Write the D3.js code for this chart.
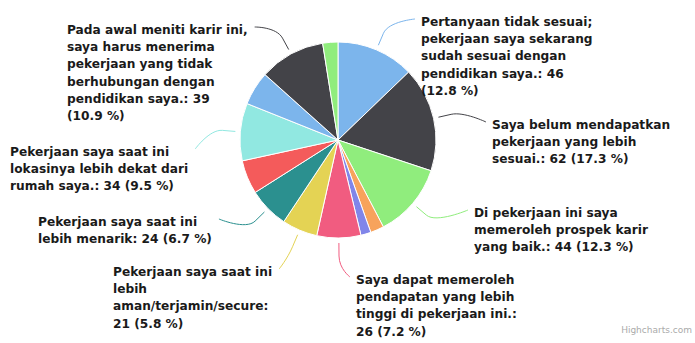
<!DOCTYPE html>
<html><head><meta charset="utf-8">
<script src="https://cdn.jsdelivr.net/npm/d3@7"></script>
<style>
html,body{margin:0;padding:0;background:#fff;}
svg{display:block;}
</style>
</head><body>
<svg id="chart" width="695" height="343"></svg>
<script>
// ---- data ----
const names = [
  "Pertanyaan tidak sesuai; pekerjaan saya sekarang sudah sesuai dengan pendidikan saya.",
  "Saya belum mendapatkan pekerjaan yang lebih sesuai.",
  "Di pekerjaan ini saya memeroleh prospek karir yang baik.",
  "Lainnya (a)",
  "Lainnya (b)",
  "Saya dapat memeroleh pendapatan yang lebih tinggi di pekerjaan ini.",
  "Pekerjaan saya saat ini lebih aman/terjamin/secure",
  "Pekerjaan saya saat ini lebih menarik",
  "Lainnya (c)",
  "Pekerjaan saya saat ini lokasinya lebih dekat dari rumah saya.",
  "Lainnya (d)",
  "Pada awal meniti karir ini, saya harus menerima pekerjaan yang tidak berhubungan dengan pendidikan saya.",
  "Lainnya (e)"
];
const values = [46, 62, 44, 8, 6, 26, 21, 24, 20, 34, 20, 39, 9];
const colors = ["#7cb5ec","#434348","#90ed7d","#f7a35c","#8085e9","#f15c80","#e4d354","#2b908f","#f45b5b","#91e8e1","#7cb5ec","#434348","#90ed7d"];
// words per label line (null = label hidden)
const wrapWords = [[3,3,3,3,2],[3,3,4],[4,3,5],null,null,[3,3,4,3],[4,1,1,3],[4,5],null,[4,4,5],null,[5,3,3,2,3,2],null];
// label layout: side, text left x, first baseline y
const labelLayout = [
  ["right",421,26],["right",492,129],["right",474,217],null,null,["right",356,284],
  ["left",113,276],["left",38,226],null,["left",10,156],null,["left",67,34],null
];

// ---- chart ----
const svg = d3.select("#chart");
const cx = 338, cy = 140, r = 98;
const total = d3.sum(values);
const data = values.map((v,i)=>({name:names[i], value:v, color:colors[i], i}));
const pie = d3.pie().value(d=>d.value).sort(null);
const arcs = pie(data);
const arc = d3.arc().innerRadius(0).outerRadius(r);
const g = svg.append("g").attr("transform",`translate(${cx},${cy})`);
g.selectAll("path.slice").data(arcs).enter().append("path")
  .attr("class","slice")
  .attr("d",arc)
  .attr("fill",d=>d.data.color)
  .attr("stroke","#ffffff").attr("stroke-width",1).attr("stroke-linejoin","round");

const fontFamily = "'DejaVu Sans', Verdana, sans-serif";
const lineH = 17.2;
const labG = svg.append("g");
arcs.forEach(a=>{
  const i = a.data.i;
  if(!wrapWords[i]) return;
  const pct = (a.data.value/total*100).toFixed(1);
  const full = `${a.data.name}: ${a.data.value} (${pct} %)`;
  const tokens = full.split(" ");
  const lines = []; let k=0;
  wrapWords[i].forEach(n=>{ lines.push(tokens.slice(k,k+n).join(" ")); k+=n; });
  const [side, lx, ly] = labelLayout[i];
  const t = labG.append("text")
    .attr("font-family",fontFamily).attr("font-size","12.2px").attr("font-weight","bold")
    .attr("fill","#1a1a1a");
  lines.forEach((ln,j)=>{
    t.append("tspan").attr("x",lx).attr("y",ly + j*lineH).text(ln);
  });
  const bw = t.node().getBBox().width;
  // connector
  const mid = (a.startAngle + a.endAngle)/2;
  const pt = rad => [cx + rad*Math.sin(mid), cy - rad*Math.cos(mid)];
  const edge = pt(r+5), bend = pt(r+18);
  const end = side==="right" ? [lx-6, ly-7] : [lx+bw+7, ly-7];
  const p = d3.path();
  p.moveTo(end[0], end[1]);
  p.bezierCurveTo(end[0], end[1], 2*bend[0]-edge[0], 2*bend[1]-edge[1], bend[0], bend[1]);
  p.lineTo(edge[0], edge[1]);
  labG.insert("path","text").attr("d",p.toString()).attr("fill","none")
    .attr("stroke",a.data.color).attr("stroke-width",1);
});

svg.append("text").attr("x",692).attr("y",333).attr("text-anchor","end")
  .attr("font-family",fontFamily).attr("font-size","9px").attr("fill","#aaa")
  .text("Highcharts.com");
</script>
</body></html>
